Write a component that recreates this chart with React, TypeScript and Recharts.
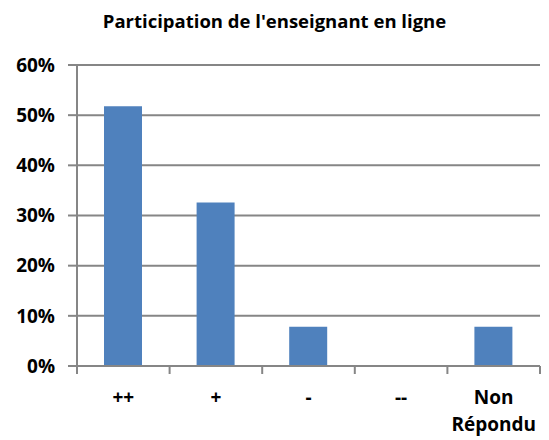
import React from "react";
import { BarChart, Bar, XAxis, YAxis, CartesianGrid } from "recharts";

// catégories et valeurs
const categories = ["++", "+", "-", "--", "Non\nRépondu"];
const values = [0.518, 0.326, 0.078, 0, 0.078];
const yTicks = [0, 0.1, 0.2, 0.3, 0.4, 0.5, 0.6];

const data = categories.map((name, i) => ({ name, value: values[i] }));

const GRAY = "#868686";
const FONT = "'Open Sans', sans-serif";

const CategoryTick = (props: any) => {
  const { x, y, payload, index, width, visibleTicksCount } = props;
  const band = width / visibleTicksCount;
  const lines = String(payload.value).split("\n");
  return (
    <g>
      <line x1={x - band / 2} x2={x - band / 2} y1={y} y2={y + 8} stroke={GRAY} strokeWidth={2} />
      {index === visibleTicksCount - 1 && (
        <line x1={x + band / 2} x2={x + band / 2} y1={y} y2={y + 8} stroke={GRAY} strokeWidth={2} />
      )}
      {lines.map((l, i) => (
        <text
          key={i}
          x={x}
          y={y + 38 + i * 27}
          textAnchor="middle"
          fontFamily={FONT}
          fontWeight={700}
          fontSize={19}
          fill="#000"
        >
          {l}
        </text>
      ))}
    </g>
  );
};

const App: React.FC = () => {
  return (
    <div style={{ position: "absolute", left: 0, top: 0, width: 549, height: 440, background: "#fff" }}>
      <div
        style={{
          position: "absolute",
          top: 8,
          left: 0,
          width: 549,
          textAlign: "center",
          fontFamily: FONT,
          fontWeight: 700,
          fontSize: 18.5,
          color: "#000",
        }}
      >
        Participation de l'enseignant en ligne
      </div>
      <BarChart
        width={549}
        height={440}
        data={data}
        margin={{ top: 65, right: 9, left: 0, bottom: 0 }}
      >
        <CartesianGrid vertical={false} stroke={GRAY} strokeWidth={2} />
        <XAxis
          dataKey="name"
          height={74}
          axisLine={{ stroke: GRAY, strokeWidth: 2 }}
          tickLine={false}
          tickSize={0}
          tickMargin={0}
          interval={0}
          tick={<CategoryTick />}
        />
        <YAxis
          width={77}
          domain={[0, 0.6]}
          ticks={yTicks}
          tickFormatter={(v: number) => `${Math.round(v * 100)}%`}
          axisLine={{ stroke: GRAY, strokeWidth: 2 }}
          tickLine={{ stroke: GRAY, strokeWidth: 2 }}
          tickSize={9}
          tickMargin={13}
          tick={{ fill: "#000", fontFamily: FONT, fontWeight: 700, fontSize: 19 }}
        />
        <Bar dataKey="value" fill="#4F81BD" barSize={38} isAnimationActive={false} />
      </BarChart>
    </div>
  );
};

export default App;
